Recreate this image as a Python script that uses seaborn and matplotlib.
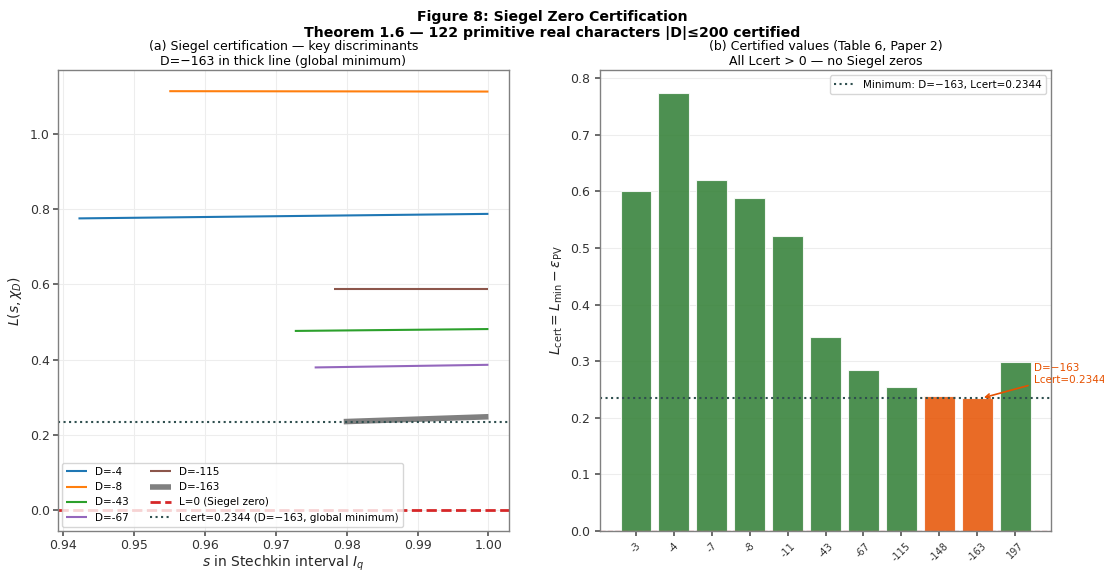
import numpy as np
import pandas as pd
import matplotlib
matplotlib.use("Agg")
import matplotlib.pyplot as plt
import seaborn as sns


# ---------------- DATA ----------------

# (a) L(s, chi_D) on the Stechkin interval, start/end of each segment
curve_labels = ["D=-4", "D=-8", "D=-43", "D=-67", "D=-115", "D=-163"]
s_start = [0.9422, 0.9550, 0.9727, 0.9755, 0.9782, 0.9796]
s_end = [1.0, 1.0, 1.0, 1.0, 1.0, 1.0]
L_start = [0.775, 1.113, 0.476, 0.379, 0.588, 0.235]
L_end = [0.787, 1.112, 0.481, 0.386, 0.588, 0.248]
curve_colors = ["#1f77b4", "#ff7f0e", "#2ca02c", "#9467bd", "#8c564b", "gray"]
curve_widths = [1.5, 1.5, 1.5, 1.5, 1.5, 4]

LCERT_MIN = 0.2344

# (b) certified values, Table 6
disc_labels = ["-3", "-4", "-7", "-8", "-11", "-43", "-67", "-115", "-148", "-163", "197"]
lcert_values = [0.600, 0.773, 0.620, 0.588, 0.522, 0.343, 0.285, 0.255, 0.239, 0.2344, 0.299]
low_set = ["-148", "-163"]

GREEN = "#2E7D32"
ORANGE = "#E65100"


# ---------------- STYLE ----------------

sns.set_theme(style="whitegrid", rc={
    "axes.edgecolor": "0.5",
    "axes.linewidth": 1.0,
    "grid.color": "0.93",
    "grid.linewidth": 0.8,
    "xtick.bottom": True,
    "ytick.left": True,
    "xtick.color": "0.35",
    "ytick.color": "0.35",
    "xtick.labelcolor": "0.2",
    "ytick.labelcolor": "0.2",
    "xtick.major.size": 3.5,
    "ytick.major.size": 3.5,
    "text.color": "black",
    "axes.labelcolor": "0.15",
})
plt.rcParams["font.family"] = ["DejaVu Sans"]

fig, (ax1, ax2) = plt.subplots(1, 2, figsize=(11.04, 5.71), dpi=100)
fig.subplots_adjust(left=0.0525, right=0.952, bottom=0.07, top=0.877, wspace=0.202)


# ---------------- (a) LINES ----------------

for i, lab in enumerate(curve_labels):
    seg = pd.DataFrame({"s": [s_start[i], s_end[i]], "L": [L_start[i], L_end[i]]})
    sns.lineplot(data=seg, x="s", y="L", ax=ax1, color=curve_colors[i],
                 linewidth=curve_widths[i], label=lab, solid_capstyle="butt")

ax1.axhline(0, color="#d62728", ls="--", lw=2, label="L=0 (Siegel zero)")
ax1.axhline(LCERT_MIN, color="darkslategray", ls=":", lw=1.5,
            label="Lcert=0.2344 (D=\u2212163, global minimum)")

ax1.set_xlabel("$s$ in Stechkin interval $I_q$", fontsize=10, labelpad=1)
ax1.set_ylabel(r"$L(s,\chi_D)$", fontsize=10)
ax1.set_title("(a) Siegel certification \u2014 key discriminants\n"
              "D=\u2212163 in thick line (global minimum)", fontsize=9, pad=4)
ax1.tick_params(labelsize=9, pad=2.5)
ax1.set_xticks([0.94, 0.95, 0.96, 0.97, 0.98, 0.99, 1.00])
ax1.legend(loc="lower left", ncol=2, fontsize=7.5, framealpha=0.8,
           borderaxespad=0.4, columnspacing=2.0)


# ---------------- (b) BARS ----------------

bars = pd.DataFrame({"D": disc_labels, "Lcert": lcert_values})
bar_colors = [ORANGE if d in low_set else GREEN for d in disc_labels]

sns.barplot(data=bars, x="D", y="Lcert", hue="D", palette=bar_colors,
            legend=False, ax=ax2, width=0.8, alpha=0.85, saturation=1,
            edgecolor="white", linewidth=0.8)

ax2.axhline(LCERT_MIN, color="darkslategray", ls=":", lw=1.5,
            label="Minimum: D=\u2212163, Lcert=0.2344")
ax2.axhline(0, color="#d62728", ls="--", lw=1, alpha=0.5)

imin = disc_labels.index("-163")
ax2.annotate("D=\u2212163\nLcert=0.2344", xy=(imin + 0.1, LCERT_MIN),
             xytext=(10.49, 0.277), fontsize=7.5, color=ORANGE,
             ha="left", va="center", annotation_clip=False,
             arrowprops=dict(arrowstyle="->", color=ORANGE, lw=1.2))

ax2.set_xlim(-0.94, 10.94)
ax2.set_ylim(0, max(lcert_values) * 1.053)
ax2.set_xlabel("")
ax2.set_ylabel(r"$L_{\rm cert} = L_{\min} - \varepsilon_{\rm PV}$", fontsize=10)
ax2.set_title("(b) Certified values (Table 6, Paper 2)\n"
              "All Lcert > 0 \u2014 no Siegel zeros", fontsize=9, pad=4)
ax2.tick_params(axis="y", labelsize=9)
ax2.tick_params(axis="x", labelsize=7, rotation=45)
ax2.grid(axis="x", visible=False)
ax2.legend(loc="upper right", fontsize=7.5, framealpha=0.8)

fig.suptitle("Figure 8: Siegel Zero Certification\n"
             "Theorem 1.6 \u2014 122 primitive real characters |D|\u2264200 certified",
             fontsize=10.2, fontweight="bold", y=0.983)

fig.savefig("out.png", dpi=100)
plt.close(fig)
